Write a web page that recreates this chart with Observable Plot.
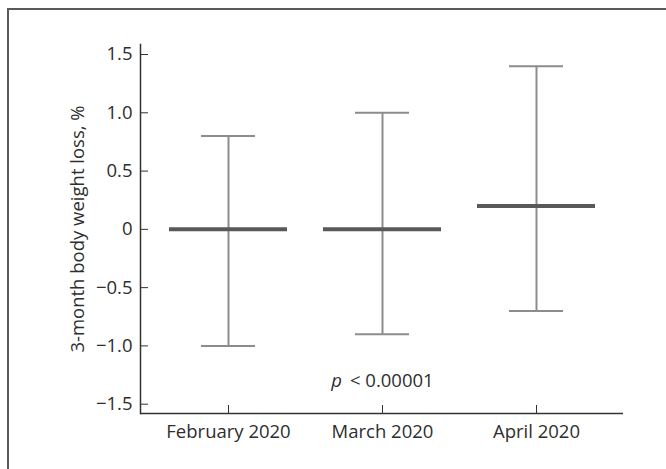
<!DOCTYPE html>
<html>
<head>
<meta charset="utf-8">
<script src="https://cdn.jsdelivr.net/npm/d3@7"></script>
<script src="https://cdn.jsdelivr.net/npm/@observablehq/plot@0.6"></script>
<style>
  html, body { margin: 0; padding: 0; background: #fff; overflow: hidden; }
  #wrap { position: relative; width: 666px; height: 469px; overflow: hidden; }
  #border { position: absolute; left: 7px; top: 8px; width: 657px; height: 459px;
            border-top: 2px solid #5a5a5a; border-left: 2px solid #5a5a5a; }
  #chart { position: absolute; left: 0; top: 0; }
</style>
</head>
<body>
<div id="wrap"><div id="border"></div><div id="chart"></div></div>
<script>
const months = ["February 2020", "March 2020", "April 2020"];
const medians = [0, 0, 0.2];
const upper = [0.8, 1.0, 1.4];
const lower = [-1.0, -0.9, -0.7];
const yTicks = [-1.5, -1.0, -0.5, 0, 0.5, 1.0, 1.5];
const yDomain = [-1.58, 1.586];
const pLabel = "p < 0.00001";
const pAt = {month: "March 2020", value: -1.3};

const rows = months.map((m, i) => ({month: m, median: medians[i], hi: upper[i], lo: lower[i]}));
const fmt = d => d === 0 ? "0" : d3.format(".1f")(d);

const plot = Plot.plot({
  width: 666,
  height: 469,
  marginLeft: 140,
  marginRight: 43,
  marginTop: 44,
  marginBottom: 56,
  style: {fontFamily: "'Open Sans', sans-serif", fontSize: "18.5px", color: "#2e2e2e", background: "transparent"},
  x: {type: "band", domain: months, paddingInner: 0.234, paddingOuter: 0.18},
  y: {domain: yDomain},
  marks: [
    Plot.axisY({ticks: yTicks, tickFormat: fmt, tickSize: -8, tickPadding: 16, stroke: "#333",
                label: "3-month body weight loss, %", labelAnchor: "center", labelArrow: "none", labelOffset: 70}),
    Plot.axisX({tickSize: -8, tickPadding: 19, stroke: "#333", label: null}),
    Plot.ruleX(rows, {x: "month", y1: "lo", y2: "hi", stroke: "#8c8c8c", strokeWidth: 2}),
    Plot.tickY(rows, {x: "month", y: "hi", stroke: "#8c8c8c", strokeWidth: 2, insetLeft: 32, insetRight: 32}),
    Plot.tickY(rows, {x: "month", y: "lo", stroke: "#8c8c8c", strokeWidth: 2, insetLeft: 32, insetRight: 32}),
    Plot.tickY(rows, {x: "month", y: "median", stroke: "#595959", strokeWidth: 4}),
    Plot.text([pAt], {x: "month", y: "value", text: () => pLabel, fill: "#2e2e2e", fontSize: 18.5, lineAnchor: "middle"}),
    Plot.ruleY([yDomain[0]], {stroke: "#333", strokeWidth: 1.5}),
    Plot.frame({anchor: "left", stroke: "#333", strokeWidth: 1.5})
  ]
});
document.getElementById("chart").appendChild(plot);
// italicize the "p"
plot.querySelectorAll("text").forEach(t => {
  if (t.textContent === pLabel) {
    const ns = "http://www.w3.org/2000/svg";
    t.textContent = "";
    const a = document.createElementNS(ns, "tspan");
    a.setAttribute("font-style", "italic");
    a.textContent = "p";
    t.appendChild(a);
    t.appendChild(document.createTextNode("\u2009" + pLabel.slice(1)));
  }
});
</script>
</body>
</html>
